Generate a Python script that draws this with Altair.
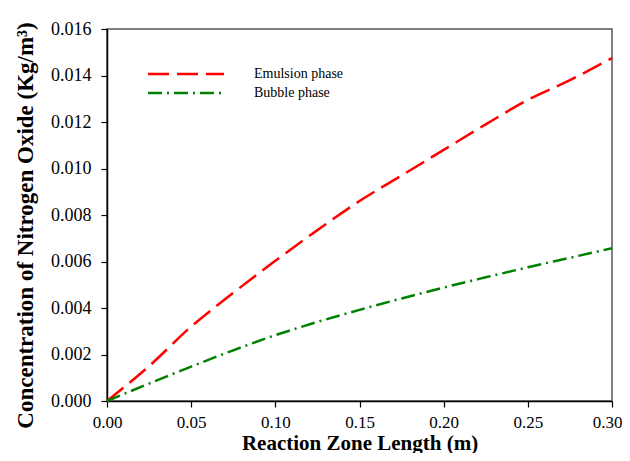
import altair as alt
import pandas as pd

x_vals = [0, 0.025, 0.05, 0.075, 0.10, 0.125, 0.15, 0.175, 0.20, 0.225, 0.25, 0.275, 0.30]
emulsion = [0, 0.0015, 0.0032, 0.00465, 0.00603, 0.00735, 0.0086, 0.0097, 0.0108, 0.0119, 0.01295, 0.0138, 0.01475]
bubble = [0, 0.00075, 0.00148, 0.00218, 0.00283, 0.0034, 0.00392, 0.00441, 0.00488, 0.00532, 0.00575, 0.00616, 0.00657]
series_names = ["Emulsion phase", "Bubble phase"]
x_ticks = [0, 0.05, 0.10, 0.15, 0.20, 0.25, 0.30]
y_ticks = [0, 0.002, 0.004, 0.006, 0.008, 0.010, 0.012, 0.014, 0.016]

rows = []
for name, vals in zip(series_names, [emulsion, bubble]):
    for xv, yv in zip(x_vals, vals):
        rows.append({"x": xv, "y": yv, "series": name})
df = pd.DataFrame(rows)

FONT = "Liberation Serif, Times New Roman, serif"

# wide line symbol: path spans 4x the nominal symbol box horizontally
legend_kw = dict(orient="none", legendX=68, legendY=34, title=None,
                 symbolType="M-4,0H4", symbolSize=361, symbolStrokeWidth=2.5,
                 labelFont=FONT, labelFontSize=14, labelColor="#000000",
                 labelOffset=57, rowPadding=1, padding=0)

chart = alt.Chart(df).mark_line(strokeWidth=2.5, interpolate="monotone").encode(
    x=alt.X("x:Q", scale=alt.Scale(domain=[0, 0.30], nice=False),
            axis=alt.Axis(values=x_ticks, format=".2f", title="Reaction Zone Length (m)",
                          grid=False, tickSize=6, labelPadding=7, labelFlush=False,
                          labelOffset=alt.expr("datum.value >= 0.3 ? -5 : 0"),
                          labelFontSize=17, titleFontSize=21,
                          titleBaseline="alphabetic", titleY=48)),
    y=alt.Y("y:Q", scale=alt.Scale(domain=[0, 0.016], nice=False),
            axis=alt.Axis(values=y_ticks, format=".3f", title="Concentration of Nitrogen Oxide (Kg/m³)",
                          grid=False, tickSize=6, labelPadding=10, labelFlush=False,
                          labelFontSize=18, titleFontSize=23,
                          titleBaseline="alphabetic", titleX=-75, titleY=196)),
    color=alt.Color("series:N", scale=alt.Scale(domain=series_names, range=["#ff0000", "#008000"]),
                    legend=alt.Legend(**legend_kw)),
    strokeDash=alt.StrokeDash("series:N", scale=alt.Scale(domain=series_names, range=[[21, 8], [14, 5, 2, 5]]),
                              legend=alt.Legend(**legend_kw)),
).properties(
    width=505, height=372,
    autosize=alt.AutoSizeParams(type="none"),
    padding={"left": 99, "top": 21, "right": 10, "bottom": 52},
).configure_view(
    stroke="#555555", strokeWidth=1.5
).configure_axis(
    labelFont=FONT, labelColor="#000000",
    titleFont=FONT, titleFontWeight="bold", titleColor="#000000",
    domainColor="#000000", domainWidth=1.5, tickColor="#000000", tickWidth=1.2,
)

chart.save("out.html", embed_options={"renderer": "svg", "actions": False})
